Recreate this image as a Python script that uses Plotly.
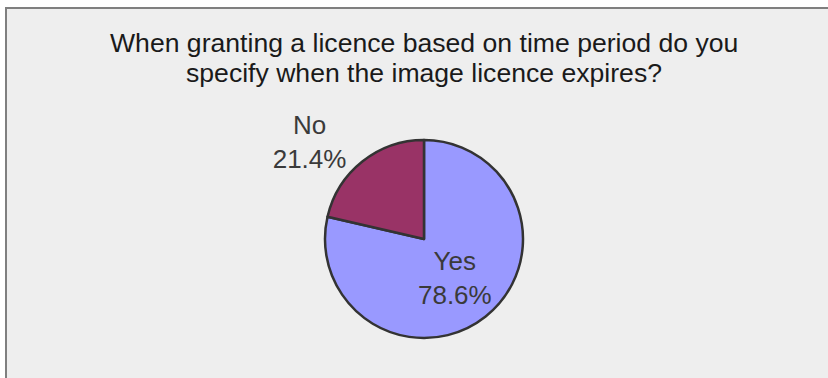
import plotly.graph_objects as go

# Survey answers and their shares (percent)
answers = ["Yes", "No"]
shares = [78.6, 21.4]
slice_colors = ["#9999FF", "#993366"]

title_lines = [
    "When granting a licence based on time period do you",
    "specify when the image licence expires?",
]

W, H = 828, 378

fig = go.Figure(
    go.Pie(
        labels=answers,
        values=shares,
        sort=False,
        direction="clockwise",
        rotation=0,
        marker=dict(colors=slice_colors, line=dict(color="#333333", width=2.5)),
        texttemplate="%{label}<br>%{percent:.1%}",
        textposition=["inside", "outside"],
        insidetextorientation="horizontal",
        textfont=dict(family="Liberation Sans, Arial, sans-serif", size=26, color="#3a3a3a"),
        hoverinfo="label+percent",
        showlegend=False,
        domain=dict(x=[325 / W, 523 / W], y=[40 / H, 238 / H]),
    )
)

annotations = []
for i, line in enumerate(title_lines):
    annotations.append(
        dict(
            text=line,
            xref="paper",
            yref="paper",
            x=424 / W,
            y=1 - (54 + 30 * i) / H,
            xanchor="center",
            yanchor="bottom",
            yshift=-6,
            showarrow=False,
            font=dict(family="Liberation Sans, Arial, sans-serif", size=26.6, color="#1a1a1a"),
        )
    )

fig.update_layout(
    width=W,
    height=H,
    margin=dict(l=0, r=0, t=0, b=0),
    paper_bgcolor="white",
    plot_bgcolor="white",
    annotations=annotations,
    shapes=[
        dict(
            type="rect",
            xref="paper",
            yref="paper",
            x0=6 / W,
            x1=1.02,
            y0=-0.02,
            y1=1 - 8 / H,
            fillcolor="#EEEEEE",
            line=dict(color="#7f7f7f", width=2),
            layer="below",
        )
    ],
)

fig.write_html("out.html")
